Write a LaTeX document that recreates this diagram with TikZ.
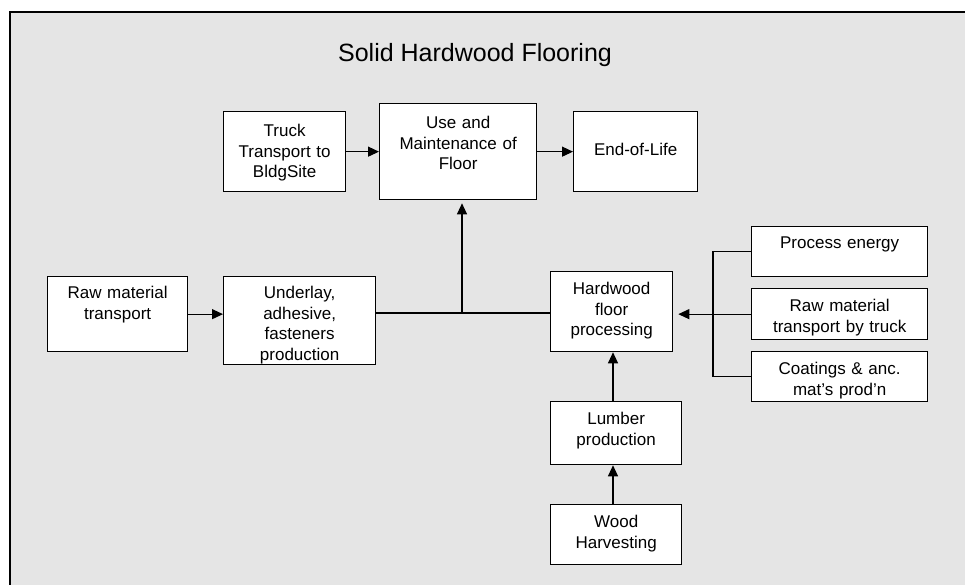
\documentclass[tikz,border=0pt]{standalone}
\usepackage{fontspec}
\setmainfont{Liberation Sans}
\usetikzlibrary{arrows.meta}
\definecolor{panelgray}{RGB}{229, 229, 229}
\tikzstyle{stagebox}=[draw,fill=white,line width=1.3pt,inner sep=0pt,align=center,anchor=north west,font=\fontsize{17}{20.5}\selectfont]
\tikzstyle{flowarc}=[line width=1.2pt,-{Triangle[length=11pt,width=10pt]}]
\tikzstyle{plainarc}=[line width=1.2pt]

\begin{document}
\begin{tikzpicture}[x=1pt,y=-1pt]

\useasboundingbox (0,0) rectangle (965,585);
\fill[white] (0,0) rectangle (965,585);
\draw[line width=1.5pt,fill=panelgray] (10,12) rectangle (985,605);

\node[anchor=base,font=\fontsize{25}{30}\selectfont] (title) at (475,62) {Solid Hardwood Flooring};

\node[stagebox,text width=122pt,text height=25pt,text depth=55pt] (truck) at (223,111) {Truck\\Transport to\\BldgSite};
\node[stagebox,text width=157pt,text height=25pt,text depth=71pt] (use) at (379,103) {Use and\\Maintenance of\\Floor};
\node[stagebox,text width=124pt,text height=44pt,text depth=36pt] (end) at (573,111) {End-of-Life};

\node[stagebox,text width=140pt,text height=22pt,text depth=53pt] (raw) at (47,276) {Raw material\\transport};
\node[stagebox,text width=152pt,text height=22pt,text depth=66pt] (underlay) at (223,276) {Underlay,\\adhesive,\\fasteners\\production};
\node[stagebox,text width=122pt,text height=23pt,text depth=57pt] (hardwood) at (550,271) {Hardwood\\floor\\processing};

\node[stagebox,text width=176pt,text height=22pt,text depth=28pt] (energy) at (751,226) {Process energy};
\node[stagebox,text width=176pt,text height=23pt,text depth=28pt] (trucking) at (751,288) {Raw material\\transport by truck};
\node[stagebox,text width=176pt,text height=23pt,text depth=27pt] (coatings) at (751,351) {Coatings \& anc.\\mat's prod'n};

\node[stagebox,text width=131pt,text height=23pt,text depth=40pt] (lumber) at (550,401) {Lumber\\production};
\node[stagebox,text width=131pt,text height=23pt,text depth=37pt] (wood) at (550,504) {Wood\\Harvesting};

\coordinate (junction) at (462,313);
\coordinate (bus) at (713,313.5);
\coordinate (spine) at (613,0);

\draw[flowarc] (truck) -- (use);
\draw[flowarc] (use) -- (end);
\draw[flowarc] (raw.east) -- (raw.east -| underlay.west);
\draw[plainarc] (junction -| underlay.east) -- (junction -| hardwood.west);
\draw[flowarc,shorten >=3pt] (junction) -- (junction |- use.south);
\draw[plainarc] (energy.west) -| (bus) |- (coatings.west);
\draw[flowarc,shorten >=5pt] (trucking.west) -- (trucking.west -| hardwood.east);
\draw[flowarc] (spine |- wood.north) -- (spine |- lumber.south);
\draw[flowarc] (spine |- lumber.north) -- (spine |- hardwood.south);

\end{tikzpicture}
\end{document}
